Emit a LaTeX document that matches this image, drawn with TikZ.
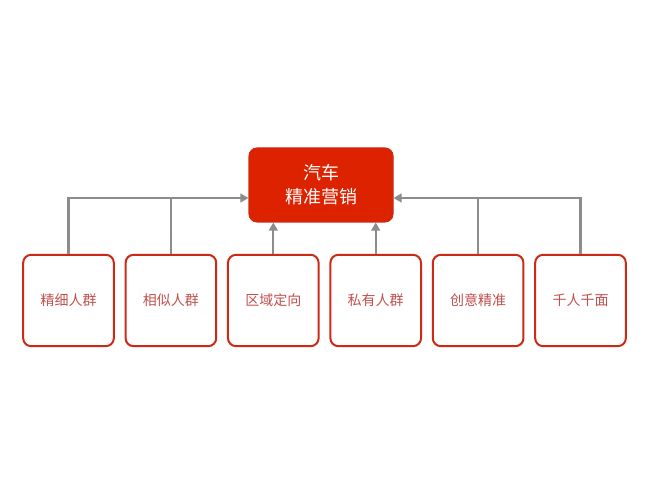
\documentclass[tikz,border=0pt]{standalone}
\usepackage{fontspec}
\setmainfont{Noto Sans CJK SC}
\usepackage{xcolor}
\usetikzlibrary{arrows.meta,positioning,calc}

\definecolor{topred}{HTML}{DD2200}
\definecolor{boxred}{HTML}{CC2A14}
\definecolor{txtred}{HTML}{C0504D}
\definecolor{linkgray}{HTML}{8C8C8C}

\tikzset{
    topbox/.style={draw=boxred, fill=topred, rounded corners=6pt, line width=0.8pt,
        minimum width=108pt, minimum height=55.5pt, text=white, align=center,
        font=\fontsize{13.5pt}{18pt}\selectfont},
    leafbox/.style={draw=boxred, fill=white, rounded corners=6pt, line width=1.5pt,
        minimum width=68pt, minimum height=68.5pt, text=txtred,
        font=\fontsize{10.5pt}{13pt}\selectfont},
    link/.style={draw=linkgray, line width=1.75pt},
    tip/.style={-{Triangle[length=6pt,width=6.5pt]}}
}

\begin{document}
\begin{tikzpicture}[x=0.75pt, y=0.75pt]
    \useasboundingbox (0,0) rectangle (645,484);

    % Goal
    \node[topbox] (goal) at (321,299) {汽车\\精准营销};

    % Leaves
    \node[leafbox] (fine) at (68.5,183.5) {精细人群};
    \node[leafbox] (similar) at (170.9,183.5) {相似人群};
    \node[leafbox] (region) at (273.3,183.5) {区域定向};
    \node[leafbox] (private) at (375.7,183.5) {私有人群};
    \node[leafbox] (creative) at (478.1,183.5) {创意精准};
    \node[leafbox] (persona) at (580.5,183.5) {千人千面};

    % Join points on the goal's sides
    \coordinate (joinL) at ($(goal.west)+(0,-13)$);
    \coordinate (joinR) at ($(goal.east)+(0,-13)$);

    % Left branch
    \draw[link, tip] (fine.north) |- (joinL);
    \draw[link] (similar.north) -- (similar.north |- joinL);

    % Straight arrows
    \draw[link, tip] (region.north) -- (region.north |- goal.south);
    \draw[link, tip] (private.north) -- (private.north |- goal.south);

    % Right branch
    \draw[link, tip] (persona.north) |- (joinR);
    \draw[link] (creative.north) -- (creative.north |- joinR);
\end{tikzpicture}
\end{document}
